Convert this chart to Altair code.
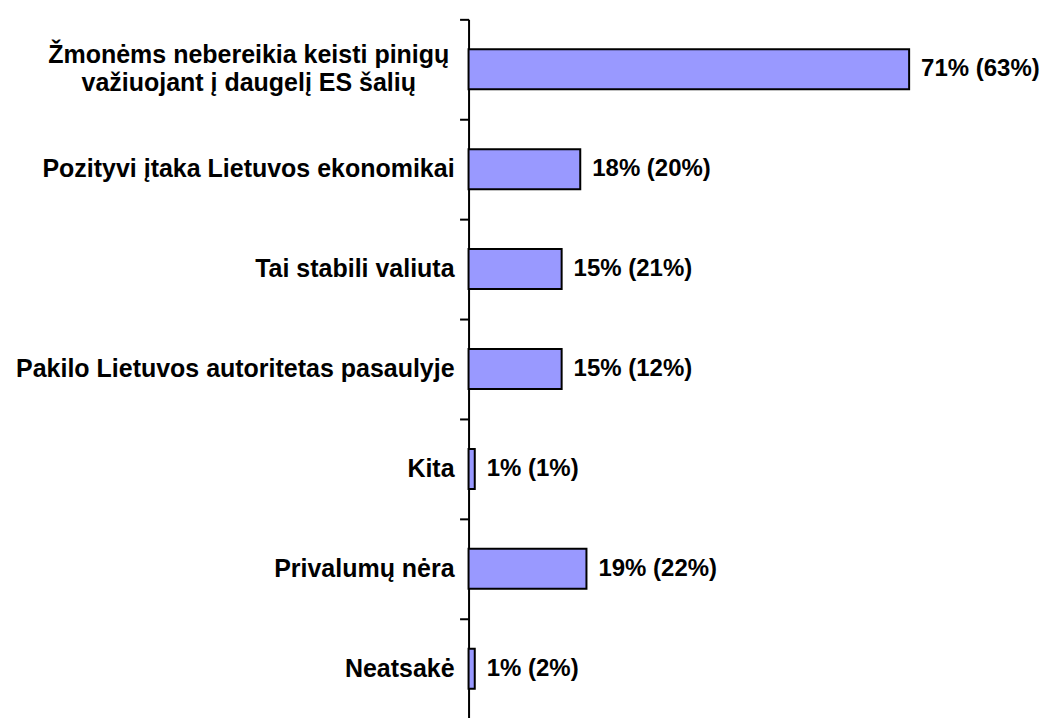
import altair as alt
import pandas as pd

categories = [
    "Žmonėms nebereikia keisti pinigų|važiuojant į daugelį ES šalių",
    "Pozityvi įtaka Lietuvos ekonomikai",
    "Tai stabili valiuta",
    "Pakilo Lietuvos autoritetas pasaulyje",
    "Kita",
    "Privalumų nėra",
    "Neatsakė",
]
values = [71, 18, 15, 15, 1, 19, 1]
previous = [63, 20, 21, 12, 1, 22, 2]

df = pd.DataFrame({"cat": categories, "val": values, "prev": previous})
df["label"] = [f"{v}% ({p}%)" for v, p in zip(values, previous)]
df["multi"] = df["cat"].str.contains(r"\|")
df["zero"] = 0

FONT = "Liberation Sans"
FS = 24

y = alt.Y(
    "cat:N",
    sort=categories,
    title=None,
    scale=alt.Scale(paddingInner=0, paddingOuter=0),
    axis=alt.Axis(
        labels=False,
        tickBand="extent",
        tickSize=9,
        tickWidth=2,
        tickColor="black",
        domainColor="black",
        domainWidth=2,
        grid=False,
    ),
)
x = alt.X("val:Q", title=None, axis=None, scale=alt.Scale(domain=[0, 71], nice=False))
x0 = alt.X("zero:Q", title=None, axis=None, scale=alt.Scale(domain=[0, 71], nice=False))

bars = alt.Chart(df).mark_bar(
    color="#9999FF", stroke="black", strokeWidth=2,
    height=alt.RelativeBandSize(0.4),
).encode(x=x, y=y)

text = alt.Chart(df).mark_text(
    align="left", baseline="middle", dx=12, font=FONT,
    fontWeight="bold", fontSize=FS, color="black"
).encode(x=x, y=y, text="label:N")

cat_single = alt.Chart(df).transform_filter("!datum.multi").mark_text(
    align="right", baseline="middle", dx=-14, font=FONT,
    fontWeight="bold", fontSize=25, color="black"
).encode(x=x0, y=y, text="cat:N")

cat_multi = alt.Chart(df).transform_filter("datum.multi").mark_text(
    align="center", baseline="middle", dx=-220, dy=-14, lineBreak="|", lineHeight=28,
    font=FONT, fontWeight="bold", fontSize=25, color="black"
).encode(x=x0, y=y, text="cat:N")

chart = (bars + text + cat_single + cat_multi).properties(
    width=441, height=700,
    autosize=alt.AutoSizeParams(type="none"),
    padding={"left": 461, "top": 11, "right": 136, "bottom": 0},
    background="white",
).configure_view(stroke=None)

chart.save("out.html", embed_options={"renderer": "svg", "actions": False})
